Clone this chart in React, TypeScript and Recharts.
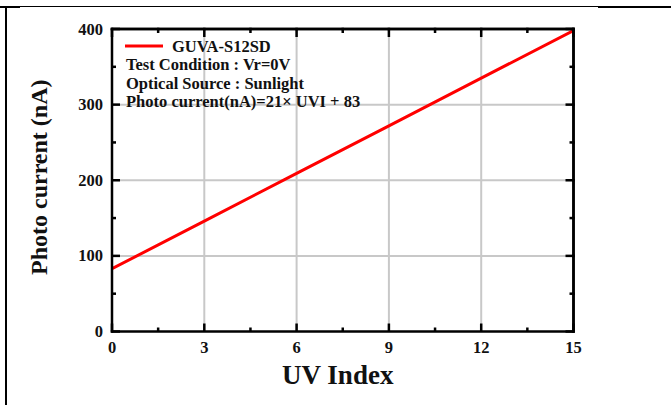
import React from 'react';
import { LineChart, Line, XAxis, YAxis, CartesianGrid, Legend } from 'recharts';

// UV index vs. photo current readings
const uvIndex = [0, 3, 6, 9, 12, 15];
const photoCurrent = [83, 146, 209, 272, 335, 398];

// major + minor tick positions; grid only on the inner majors
const xTicks = [0, 1.5, 3, 4.5, 6, 7.5, 9, 10.5, 12, 13.5, 15];
const yTicks = [0, 50, 100, 150, 200, 250, 300, 350, 400];
const xGrid = [3, 6, 9, 12];
const yGrid = [100, 200, 300];
const xMax = 15;
const yMax = 400;
const xStep = 1.5;
const yStep = 50;

const seriesName = 'GUVA-S12SD';
const notes = [
  'Test Condition : Vr=0V',
  'Optical Source : Sunlight',
  'Photo current(nA)=21\u00d7 UVI + 83',
];

const data = uvIndex.map((uv, i) => ({ uv, current: photoCurrent[i] }));

const FONT = '"Liberation Serif", "Times New Roman", serif';
const INK = '#111';
const FRAME = 2.5;
const TICK_FONT = 16.5;

// chart layout
const W = 671;
const H = 405;
const LEFT_AXIS_W = 112;
const BOTTOM_AXIS_H = 73.5;
const MARGIN_TOP = 28;
const MARGIN_RIGHT = 96.5;
const PLOT_W = W - LEFT_AXIS_W - MARGIN_RIGHT - 1;
const PLOT_H = H - BOTTOM_AXIS_H - MARGIN_TOP - 1;
const X_STEP_PX = (PLOT_W * xStep) / xMax;
const Y_STEP_PX = (PLOT_H * yStep) / yMax;

const isMajorX = (v: number) => v % 3 === 0;
const isMajorY = (v: number) => v % 100 === 0;

function BottomTick({ x, y, payload }: any) {
  const major = isMajorX(payload.value);
  return (
    <g>
      <line x1={x} y1={y} x2={x} y2={y - (major ? 8 : 4)} stroke="#000" strokeWidth={FRAME} />
      {major && (
        <text x={x} y={y + 21} textAnchor="middle" fontFamily={FONT} fontWeight="bold" fontSize={TICK_FONT} fill={INK}>
          {payload.value}
        </text>
      )}
    </g>
  );
}

// top edge: each tick draws the frame out to its neighbours
function TopTick({ x, y, payload }: any) {
  const major = isMajorX(payload.value);
  const x1 = payload.value > 0 ? x - X_STEP_PX : x;
  const x2 = payload.value < xMax ? x + X_STEP_PX : x;
  return (
    <g>
      <line x1={x1} y1={y} x2={x2} y2={y} stroke="#000" strokeWidth={FRAME} strokeLinecap="square" />
      <line x1={x} y1={y} x2={x} y2={y + (major ? 8 : 4)} stroke="#000" strokeWidth={FRAME} />
    </g>
  );
}

function LeftTick({ x, y, payload }: any) {
  const major = isMajorY(payload.value);
  return (
    <g>
      <line x1={x} y1={y} x2={x + (major ? 8 : 4)} y2={y} stroke="#000" strokeWidth={FRAME} />
      {major && (
        <text x={x - 9} y={y + 5.5} textAnchor="end" fontFamily={FONT} fontWeight="bold" fontSize={TICK_FONT} fill={INK}>
          {payload.value}
        </text>
      )}
    </g>
  );
}

// right edge: each tick draws the frame out to its neighbours
function RightTick({ x, y, payload }: any) {
  const major = isMajorY(payload.value);
  const y1 = payload.value > 0 ? y + Y_STEP_PX : y;
  const y2 = payload.value < yMax ? y - Y_STEP_PX : y;
  return (
    <g>
      <line x1={x} y1={y1} x2={x} y2={y2} stroke="#000" strokeWidth={FRAME} strokeLinecap="square" />
      <line x1={x} y1={y} x2={x - (major ? 8 : 4)} y2={y} stroke="#000" strokeWidth={FRAME} />
    </g>
  );
}

function XTitle({ viewBox }: any) {
  return (
    <text
      x={viewBox.x + viewBox.width / 2 - 5}
      y={viewBox.y + 52}
      textAnchor="middle"
      fontFamily={FONT}
      fontWeight="bold"
      fontSize={27}
      fill={INK}
    >
      UV Index
    </text>
  );
}

function YTitle({ viewBox }: any) {
  const cx = viewBox.x + 47;
  const cy = viewBox.y + viewBox.height / 2 - 3;
  return (
    <text
      x={cx}
      y={cy}
      transform={`rotate(-90, ${cx}, ${cy})`}
      textAnchor="middle"
      fontFamily={FONT}
      fontWeight="bold"
      fontSize={24}
      fill={INK}
    >
      Photo current (nA)
    </text>
  );
}

function LegendBox({ payload }: any) {
  const entry = payload?.[0];
  const textProps = { fontFamily: FONT, fontWeight: 'bold', fontSize: 16.5, fill: INK };
  return (
    <svg width={260} height={84} style={{ overflow: 'visible' }}>
      <line x1={5} x2={43} y1={16} y2={16} stroke={entry?.color} strokeWidth={3} />
      <text x={52} y={22} {...textProps}>
        {entry?.value}
      </text>
      {notes.map((n, i) => (
        <text key={n} x={6} y={40 + i * 18.5} {...textProps}>
          {n}
        </text>
      ))}
    </svg>
  );
}

export default function App() {
  const frameLine = { stroke: '#000', strokeWidth: FRAME, strokeLinecap: 'square' as const };
  return (
    <div style={{ position: 'absolute', left: 0, top: 0, width: W, height: H, background: '#fff' }}>
      {/* table cell borders around the figure */}
      <div style={{ position: 'absolute', left: 0, top: 6, width: 20, height: 2, background: '#000' }} />
      <div style={{ position: 'absolute', left: 20, top: 6, width: 578, height: 1, background: '#000' }} />
      <div style={{ position: 'absolute', left: 598, top: 6, width: 73, height: 2, background: '#000' }} />
      <div style={{ position: 'absolute', left: 5, top: 6, width: 2, height: 399, background: '#000' }} />

      <LineChart width={W} height={H} data={data} margin={{ top: MARGIN_TOP, right: MARGIN_RIGHT, bottom: 0, left: 0 }}>
        <CartesianGrid
          stroke="#c8c8c8"
          strokeWidth={2}
          verticalValues={xGrid}
          horizontalValues={yGrid}
        />
        <XAxis
          dataKey="uv"
          type="number"
          domain={[0, xMax]}
          allowDataOverflow
          ticks={xTicks}
          interval={0}
          height={BOTTOM_AXIS_H}
          tickSize={0}
          tickMargin={0}
          tickLine={false}
          axisLine={frameLine}
          tick={BottomTick}
          label={{ content: XTitle }}
        />
        {/* mirrored ticks along the top and right */}
        <XAxis
          xAxisId="top"
          orientation="top"
          dataKey="uv"
          type="number"
          domain={[0, xMax]}
          allowDataOverflow
          ticks={xTicks}
          interval={0}
          height={1}
          tickSize={0}
          tickMargin={0}
          tickLine={false}
          axisLine={false}
          tick={TopTick}
        />
        <YAxis
          type="number"
          domain={[0, yMax]}
          allowDataOverflow
          ticks={yTicks}
          interval={0}
          width={LEFT_AXIS_W}
          tickSize={0}
          tickMargin={0}
          tickLine={false}
          axisLine={frameLine}
          tick={LeftTick}
          label={{ content: YTitle }}
        />
        <YAxis
          yAxisId="right"
          orientation="right"
          type="number"
          domain={[0, yMax]}
          allowDataOverflow
          ticks={yTicks}
          interval={0}
          width={1}
          tickSize={0}
          tickMargin={0}
          tickLine={false}
          axisLine={false}
          tick={RightTick}
        />
        <Legend
          verticalAlign="middle"
          align="center"
          layout="horizontal"
          wrapperStyle={{ position: 'absolute', left: 120, top: 30, width: 260, height: 84 }}
          content={LegendBox}
        />
        <Line
          type="linear"
          dataKey="current"
          name={seriesName}
          stroke="#ff0000"
          strokeWidth={3}
          dot={false}
          isAnimationActive={false}
        />
      </LineChart>
    </div>
  );
}
